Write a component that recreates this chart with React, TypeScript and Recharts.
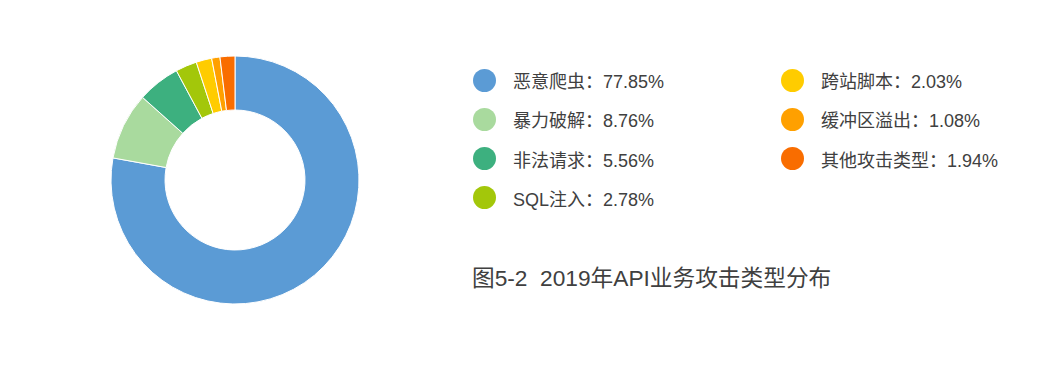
import React from 'react';
import { PieChart, Pie, Cell, Legend } from 'recharts';

const categories = ['恶意爬虫', '暴力破解', '非法请求', 'SQL注入', '跨站脚本', '缓冲区溢出', '其他攻击类型'];
const values = [77.85, 8.76, 5.56, 2.78, 2.03, 1.08, 1.94];
const colors = ['#5B9BD5', '#A9DA9E', '#3DB07F', '#A3C70A', '#FFCC00', '#FFA000', '#F96D00'];
const title = '图5-2  2019年API业务攻击类型分布';

const data = categories.map((name, i) => ({ name, value: values[i] }));

const FONT = '"Liberation Sans", Arial, "Noto Sans CJK SC", sans-serif';

const renderLegend = () => {
  const col1 = data.slice(0, 4).map((d, i) => ({ ...d, idx: i }));
  const col2 = data.slice(4).map((d, i) => ({ ...d, idx: i + 4 }));
  const item = (d: { name: string; value: number; idx: number }, r: number) => (
    <div
      key={d.name}
      style={{
        position: 'absolute',
        top: r * 39.3,
        left: 0,
        height: 24,
        display: 'flex',
        alignItems: 'center',
        whiteSpace: 'nowrap',
      }}
    >
      <span
        style={{
          display: 'inline-block',
          width: 23,
          height: 23,
          borderRadius: '50%',
          background: colors[d.idx],
        }}
      />
      <span style={{ marginLeft: 17, fontSize: 18, color: '#404040', fontFamily: FONT }}>
        {d.name}：{d.value.toFixed(2)}%
      </span>
    </div>
  );
  return (
    <div style={{ position: 'relative', width: 600, height: 180 }}>
      <div style={{ position: 'absolute', left: 0, top: 0 }}>{col1.map((d, r) => item(d, r))}</div>
      <div style={{ position: 'absolute', left: 308, top: 0 }}>{col2.map((d, r) => item(d, r))}</div>
    </div>
  );
};

export default function App() {
  return (
    <div style={{ position: 'relative', width: 1045, height: 356 }}>
      <PieChart width={1045} height={356} margin={{ top: 0, right: 0, bottom: 0, left: 0 }}>
        <Pie
          data={data}
          dataKey="value"
          nameKey="name"
          cx={227}
          cy={172}
          innerRadius={70}
          outerRadius={124}
          startAngle={90}
          endAngle={-270}
          stroke="#ffffff"
          strokeWidth={1}
          isAnimationActive={false}
        >
          {data.map((d, i) => (
            <Cell key={d.name} fill={colors[i]} />
          ))}
        </Pie>
        <Legend
          content={renderLegend}
          wrapperStyle={{ position: 'absolute', left: 465, top: 60, width: 600, height: 180 }}
        />
      </PieChart>
      <div
        style={{
          position: 'absolute',
          left: 464,
          top: 252,
          fontSize: 22.7,
          color: '#404040',
          fontFamily: FONT,
          whiteSpace: 'pre',
        }}
      >
        {title}
      </div>
    </div>
  );
}
